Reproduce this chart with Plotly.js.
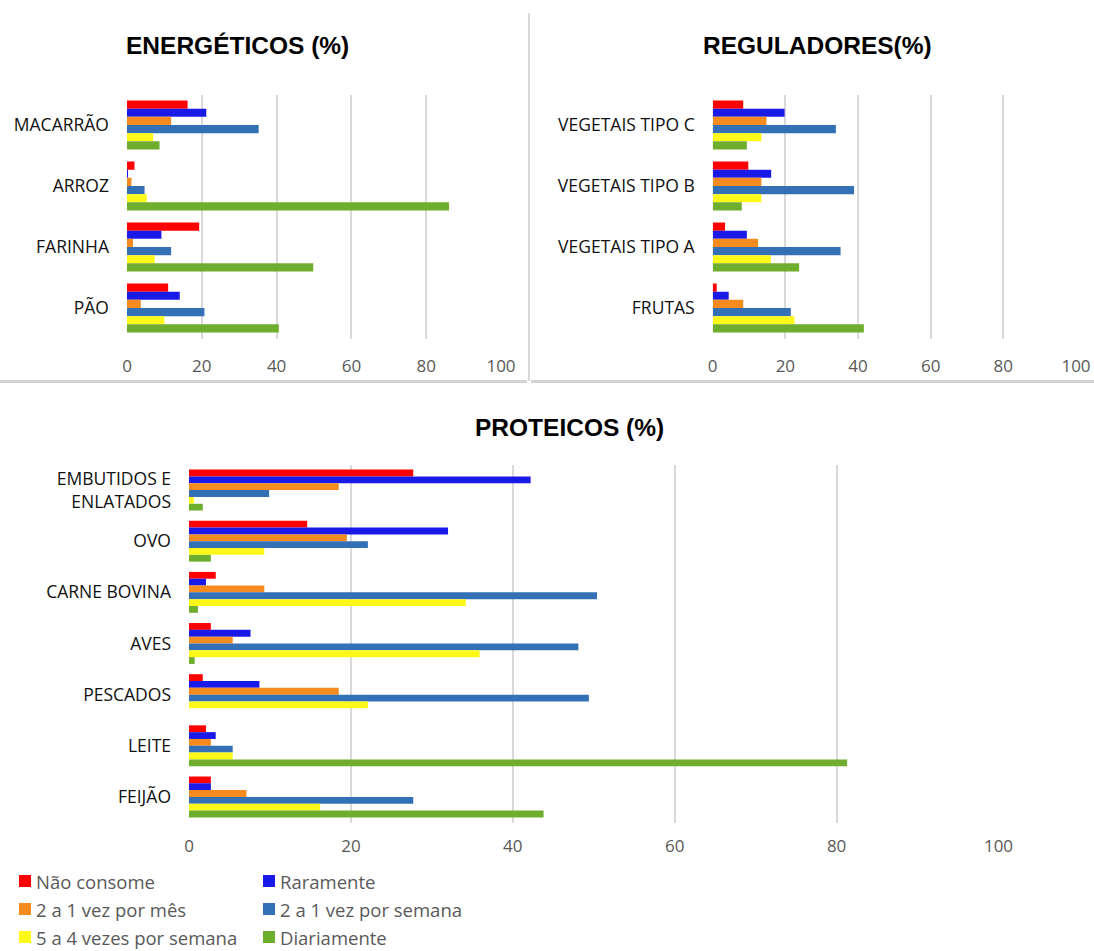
<!DOCTYPE html>
<html>
<head>
<meta charset="utf-8">
<script src="https://cdn.plot.ly/plotly-3.0.1.min.js"></script>
<style>html,body{margin:0;padding:0;background:#fff;}#chart{width:1094px;height:951px;}</style>
</head>
<body>
<div id="chart"></div>
<script>
// ---- Data ----
const seriesNames = ['Não consome', 'Raramente', '2 a 1 vez por mês', '2 a 1 vez por semana', '5 a 4 vezes por semana', 'Diariamente'];
const seriesColors = ['#FF0000', '#1A1AE8', '#F68B1F', '#3370B5', '#FFF91A', '#6FAD2F'];

const energCats = ['MACARRÃO', 'ARROZ', 'FARINHA', 'PÃO'];
const energNaoConsome = [16.2, 2.0, 19.3, 11.0];
const energRaramente = [21.2, 0.2, 9.2, 14.1];
const energMes = [11.8, 1.2, 1.6, 3.7];
const energSemana = [35.2, 4.7, 11.8, 20.7];
const energCincoQuatro = [7.0, 5.3, 7.4, 10.0];
const energDiario = [8.7, 86.1, 49.8, 40.6];

const regulCats = ['VEGETAIS TIPO C', 'VEGETAIS TIPO B', 'VEGETAIS TIPO A', 'FRUTAS'];
const regulNaoConsome = [8.4, 9.8, 3.4, 1.1];
const regulRaramente = [19.8, 16.1, 9.4, 4.4];
const regulMes = [14.8, 13.4, 12.5, 8.4];
const regulSemana = [33.9, 38.9, 35.2, 21.5];
const regulCincoQuatro = [13.4, 13.4, 16.0, 22.5];
const regulDiario = [9.4, 8.0, 23.8, 41.6];

const protCats = ['EMBUTIDOS E<br>ENLATADOS', 'OVO', 'CARNE BOVINA', 'AVES', 'PESCADOS', 'LEITE', 'FEIJÃO'];
const protNaoConsome = [27.7, 14.6, 3.3, 2.7, 1.7, 2.1, 2.7];
const protRaramente = [42.2, 32.0, 2.1, 7.6, 8.7, 3.3, 2.7];
const protMes = [18.5, 19.5, 9.3, 5.4, 18.5, 2.7, 7.1];
const protSemana = [9.9, 22.1, 50.4, 48.1, 49.4, 5.4, 27.7];
const protCincoQuatro = [0.6, 9.3, 34.2, 35.9, 22.1, 5.4, 16.2];
const protDiario = [1.7, 2.7, 1.1, 0.7, 0.0, 81.3, 43.8];

const xTickVals = [0, 20, 40, 60, 80, 100];
const panelTitles = ['ENERGÉTICOS (%)', 'REGULADORES(%)', 'PROTEICOS (%)'];

// ---- Build ----
const W = 1094, H = 951;
const px = v => v / W;
const py = v => 1 - v / H;

const groups = [
  {cats: energCats, vals: [energNaoConsome, energRaramente, energMes, energSemana, energCincoQuatro, energDiario], xa: 'x', ya: 'y'},
  {cats: regulCats, vals: [regulNaoConsome, regulRaramente, regulMes, regulSemana, regulCincoQuatro, regulDiario], xa: 'x2', ya: 'y2'},
  {cats: protCats, vals: [protNaoConsome, protRaramente, protMes, protSemana, protCincoQuatro, protDiario], xa: 'x3', ya: 'y3'}
];

const traces = [];
groups.forEach(g => {
  g.vals.forEach((v, i) => {
    traces.push({
      type: 'bar', orientation: 'h',
      x: v, y: g.cats, name: seriesNames[i],
      xaxis: g.xa, yaxis: g.ya,
      marker: {color: seriesColors[i], line: {width: 0}},
      showlegend: false,
      hovertemplate: '%{y}: %{x}<extra>' + seriesNames[i] + '</extra>'
    });
  });
});

const tickFont = {family: 'Open Sans, sans-serif', size: 17, color: '#595959'};
const catFont = {family: 'Open Sans, sans-serif', size: 17.5, color: '#111111'};

function xax(d0, d1, anchor, standoff) {
  return {domain: [px(d0), px(d1)], anchor: anchor, range: [0, 100], tickvals: xTickVals,
    showgrid: true, gridcolor: '#d9d9d9', gridwidth: 1.5, zeroline: false, showline: false,
    ticks: '', tickfont: tickFont, ticklabelstandoff: standoff, fixedrange: true};
}
function yax(top, bottom, anchor) {
  return {domain: [py(bottom), py(top)], anchor: anchor, type: 'category', autorange: 'reversed',
    showgrid: false, zeroline: false, showline: false, ticks: '', tickfont: catFont,
    ticklabelstandoff: 17, fixedrange: true};
}

const shapes = [
  {type: 'line', xref: 'paper', yref: 'paper', x0: px(529), x1: px(529), y0: py(13), y1: py(381), line: {color: '#d9d9d9', width: 2}},
  {type: 'line', xref: 'paper', yref: 'paper', x0: 0, x1: px(527), y0: py(381.5), y1: py(381.5), line: {color: '#d4d4d4', width: 3}},
  {type: 'line', xref: 'paper', yref: 'paper', x0: px(531), x1: 1, y0: py(381.5), y1: py(381.5), line: {color: '#d4d4d4', width: 3}}
];

const annotations = [
  {text: '<b>' + panelTitles[0] + '</b>', x: px(237), y: py(45)},
  {text: '<b>' + panelTitles[1] + '</b>', x: px(817), y: py(45)},
  {text: '<b>' + panelTitles[2] + '</b>', x: px(569), y: py(427)}
].map(a => Object.assign(a, {xref: 'paper', yref: 'paper', showarrow: false, xanchor: 'center', yanchor: 'middle',
  font: {family: 'Liberation Sans, Arial, sans-serif', size: 24.5, color: '#000'}}));

// manual legend: two columns, three rows
const legCols = [19, 263];
const legRows = [881, 909, 937];
seriesNames.forEach((n, i) => {
  const col = i % 2, row = Math.floor(i / 2);
  const x0 = legCols[col], yc = legRows[row];
  shapes.push({type: 'rect', xref: 'paper', yref: 'paper', x0: px(x0), x1: px(x0 + 12), y0: py(yc + 6), y1: py(yc - 6),
    fillcolor: seriesColors[i], line: {width: 0}});
  annotations.push({text: n, xref: 'paper', yref: 'paper', x: px(x0 + 15), y: py(yc), xanchor: 'left', yanchor: 'middle',
    showarrow: false, font: {family: 'Open Sans, sans-serif', size: 18.5, color: '#595959'}});
});

const layout = {
  width: W, height: H, margin: {l: 0, r: 0, t: 0, b: 0},
  paper_bgcolor: '#ffffff', plot_bgcolor: 'rgba(0,0,0,0)',
  barmode: 'group', bargap: 0.2, bargroupgap: 0,
  showlegend: false,
  xaxis: xax(127, 501, 'y', 15),
  yaxis: yax(94.5, 338.5, 'x'),
  xaxis2: xax(712.7, 1076, 'y2', 15),
  yaxis2: yax(94.5, 338.5, 'x2'),
  xaxis3: xax(189, 998.5, 'y3', 11),
  yaxis3: yax(464.5, 822.5, 'x3'),
  shapes: shapes,
  annotations: annotations
};

Plotly.newPlot('chart', traces, layout, {displayModeBar: false, staticPlot: false});
</script>
</body>
</html>
